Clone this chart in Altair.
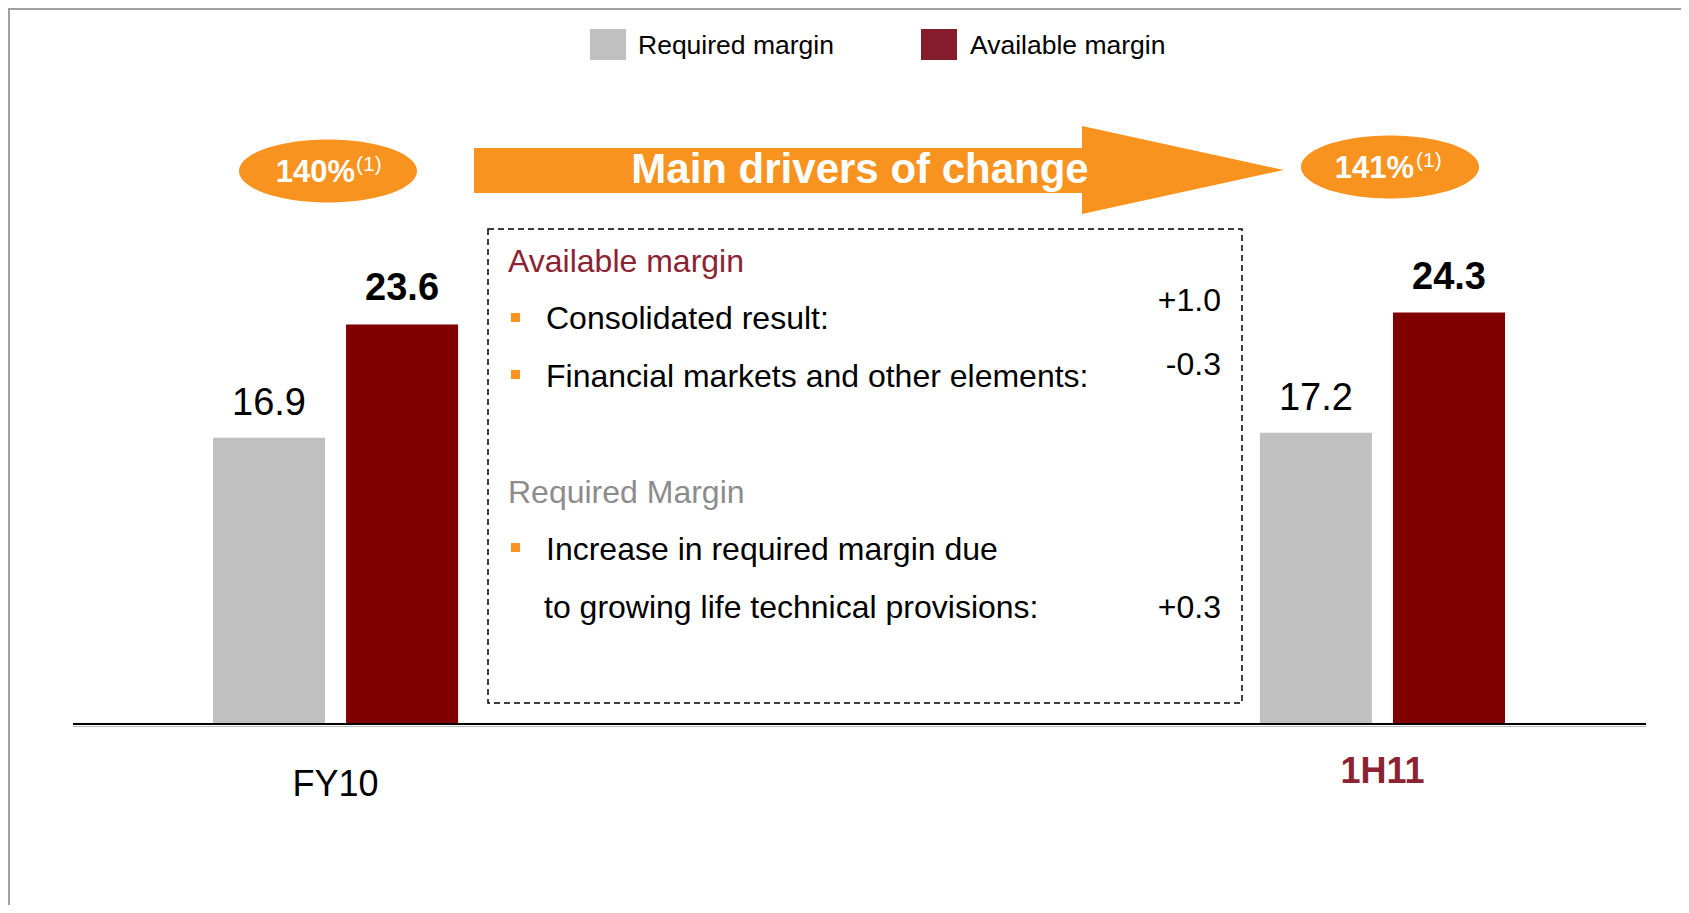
import math
import altair as alt
import pandas as pd

# ---------------- data ----------------
periods = ["FY10", "1H11"]
series = ["Required margin", "Available margin"]
required = [16.9, 17.2]
available = [23.6, 24.3]
ratios = ["140%", "141%"]
footnote = "(1)"
legend_labels = ["Required margin", "Available margin"]
arrow_text = "Main drivers of change"
avail_header = "Available margin"
avail_items = ["Consolidated result:", "Financial markets and other elements:"]
avail_values = ["+1.0", "-0.3"]
req_header = "Required Margin"
req_items = ["Increase in required margin due", "to growing life technical provisions:"]
req_values = ["+0.3"]

# ---------------- style ----------------
FONT = "Liberation Sans"
ORANGE = "#F7931E"
GRAY = "#C0C0C0"
RED = "#800000"
LEG_RED = "#841C2C"
HEAD_RED = "#8B2332"
W, H = 1673, 897

rows = []
for i, p in enumerate(periods):
    rows.append({"period": p, "series": series[0], "value": required[i]})
    rows.append({"period": p, "series": series[1], "value": available[i]})
df = pd.DataFrame(rows)
one = pd.DataFrame({"a": [1]})

xs = alt.Scale(domain=periods, range=[205, 1497], paddingInner=0.7659, paddingOuter=0)
xo = alt.Scale(domain=series, paddingInner=0.158, paddingOuter=0)
ys = alt.Scale(domain=[0, 42.29], range=[716, 0], nice=False, zero=True)

X = alt.X("period:N", scale=xs, axis=None)
XO = alt.XOffset("series:N", scale=xo)
Y = alt.Y("value:Q", scale=ys, axis=None)

base = alt.Chart(df)
bars = base.mark_bar().encode(
    x=X, xOffset=XO, y=Y,
    color=alt.Color("series:N", scale=alt.Scale(domain=series, range=[GRAY, RED]), legend=None),
)
lab_req = base.transform_filter(alt.datum.series == series[0]).mark_text(
    font=FONT, fontSize=38, baseline="alphabetic", dy=-23, color="black"
).encode(x=X, xOffset=XO, y=Y, text=alt.Text("value:Q", format=".1f"))
lab_av = base.transform_filter(alt.datum.series == series[1]).mark_text(
    font=FONT, fontSize=38, fontWeight="bold", baseline="alphabetic", dy=-24, color="black"
).encode(x=X, xOffset=XO, y=Y, text=alt.Text("value:Q", format=".1f"))

cat = alt.Chart(pd.DataFrame({"period": periods}))
cat1 = cat.transform_filter(alt.datum.period == periods[0]).mark_text(
    font=FONT, fontSize=36, baseline="alphabetic", color="black"
).encode(x=X, y=alt.value(788), text="period:N")
cat2 = cat.transform_filter(alt.datum.period == periods[1]).mark_text(
    font=FONT, fontSize=36, fontWeight="bold", baseline="alphabetic", color=HEAD_RED
).encode(x=X, y=alt.value(775), text="period:N")

baseline = alt.Chart(one).mark_rule(color="black", strokeWidth=2).encode(
    x=alt.value(65), x2=alt.value(1638), y=alt.Y(datum=0, type="quantitative", scale=ys, axis=None)
)
shadow = alt.Chart(one).mark_rule(color="#BBBBBB", strokeWidth=1).encode(
    x=alt.value(65), x2=alt.value(1638), y=alt.value(718.5)
)

# frame lines
frame_left = alt.Chart(one).mark_rule(color="#A0A0A0", strokeWidth=2).encode(
    x=alt.value(1), y=alt.value(0), y2=alt.value(H))
frame_top = alt.Chart(one).mark_rule(color="#A0A0A0", strokeWidth=2).encode(
    x=alt.value(0), x2=alt.value(W), y=alt.value(1))


def text(t, x, y, size, color="black", weight="normal", align="left"):
    return alt.Chart(one).mark_text(
        text=t, font=FONT, fontSize=size, fontWeight=weight, color=color,
        align=align, baseline="alphabetic"
    ).encode(x=alt.value(x), y=alt.value(y))


def rect(x1, x2, y1, y2, color):
    return alt.Chart(one).mark_rect(color=color).encode(
        x=alt.value(x1), x2=alt.value(x2), y=alt.value(y1), y2=alt.value(y2))


# legend
legend = [
    rect(582, 618, 21, 52, GRAY),
    text(legend_labels[0], 630, 46, 26.5),
    rect(913, 949, 21, 52, LEG_RED),
    text(legend_labels[1], 962, 46, 26.5),
]

# arrow (custom symbol path)
acx, acy, half = 871, 162, 405
pts = [(466, 140), (1074, 140), (1074, 118), (1276, 162), (1074, 206), (1074, 185), (466, 185)]
apath = "M" + "L".join(f"{(px-acx)/half:.4f},{(py-acy)/half:.4f}" for px, py in pts) + "Z"
arrow = alt.Chart(one).mark_point(
    shape=apath, filled=True, color=ORANGE, opacity=1, size=(2 * half) ** 2, strokeWidth=0
).encode(x=alt.value(acx), y=alt.value(acy))
arrow_lab = text(arrow_text, 852, 175, 42, "white", "bold", "center")

# ellipses
ratio = 31.5 / 89
epts = [(math.cos(2 * math.pi * k / 90), ratio * math.sin(2 * math.pi * k / 90)) for k in range(90)]
epath = "M" + "L".join(f"{ex:.4f},{ey:.4f}" for ex, ey in epts) + "Z"


def ellipse(cx, cy):
    return alt.Chart(one).mark_point(
        shape=epath, filled=True, color=ORANGE, opacity=1, size=178 ** 2, strokeWidth=0
    ).encode(x=alt.value(cx), y=alt.value(cy))


ells = [
    ellipse(320, 163),
    text(ratios[0], 347, 174, 31, "white", "bold", "right"),
    text(footnote, 348, 163, 21, "white", "normal", "left"),
    ellipse(1382, 159),
    text(ratios[1], 1406, 170, 31, "white", "bold", "right"),
    text(footnote, 1408, 159, 21, "white", "normal", "left"),
]

# dashed box
box = alt.Chart(one).mark_rect(
    fill="transparent", stroke="black", strokeWidth=1.5, strokeDash=[6, 4]
).encode(x=alt.value(480), x2=alt.value(1234), y=alt.value(221), y2=alt.value(695))

box_txt = [
    text(avail_header, 500, 264, 32, HEAD_RED),
    rect(503, 512, 305, 314, ORANGE),
    text(avail_items[0], 538, 321, 32),
    text(avail_values[0], 1213, 303, 32, align="right"),
    rect(503, 512, 362, 371, ORANGE),
    text(avail_items[1], 538, 379, 32),
    text(avail_values[1], 1213, 367, 32, align="right"),
    text(req_header, 500, 495, 32, "#8C8C8C"),
    rect(503, 512, 535, 544, ORANGE),
    text(req_items[0], 538, 552, 32),
    text(req_items[1], 536, 610, 32),
    text(req_values[0], 1213, 610, 32, align="right"),
]

chart = alt.layer(
    frame_left, frame_top, bars, lab_req, lab_av, shadow, baseline, cat1, cat2,
    *legend, arrow, arrow_lab, *ells, box, *box_txt
).properties(
    width=W, height=H, autosize=alt.AutoSizeParams(type="none"), padding=0
).configure_view(strokeWidth=0)

chart.save("out.html", embed_options={"renderer": "svg", "actions": False})
